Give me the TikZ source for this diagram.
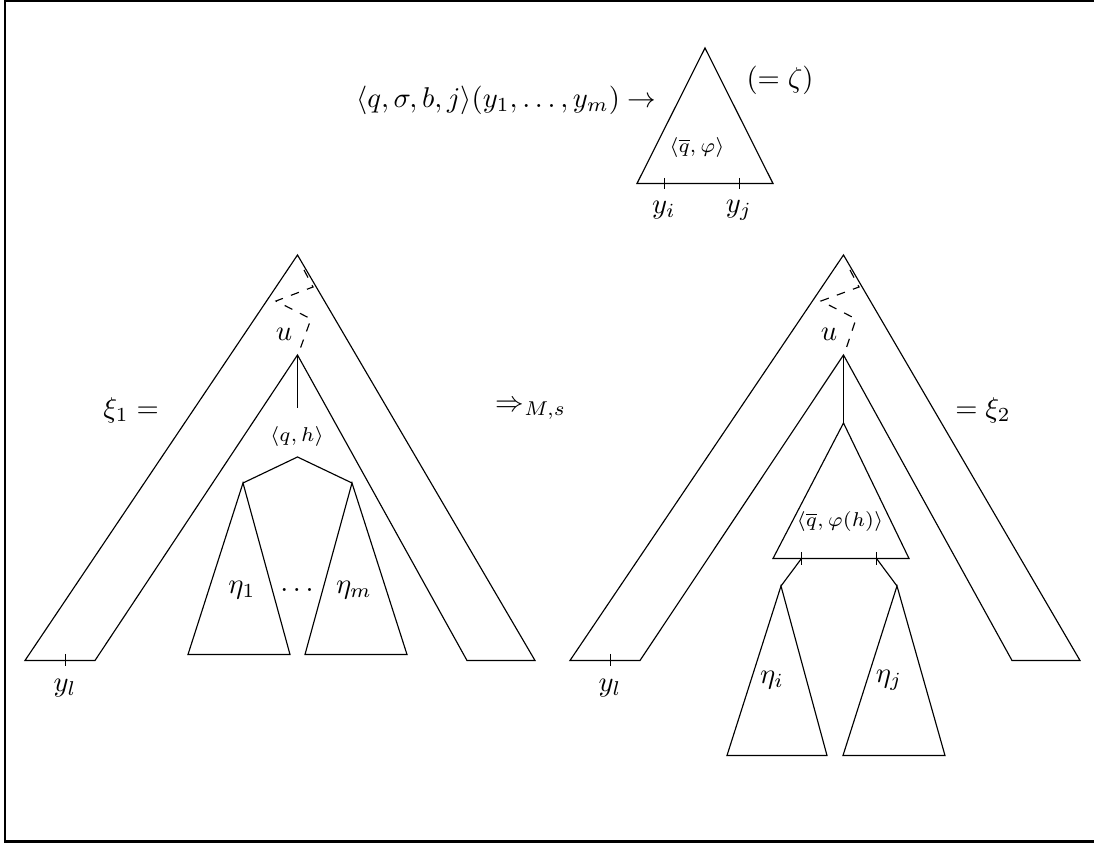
\documentclass[tikz,border=0pt]{standalone}
\begin{document}
\begin{tikzpicture}[x=0.35pt,y=-0.35pt,
  edge/.style={line width=0.4pt},
  frame/.style={line width=0.8pt},
  zig/.style={line width=0.4pt,dash pattern=on 3pt off 3pt},
  lbl/.style={inner sep=0pt},
  small/.style={inner sep=0pt,font=\scriptsize}]
\useasboundingbox (0,0) rectangle (1094,843);
% frame
\coordinate (f1) at (5,1);
\coordinate (f2) at (1094,1);
\coordinate (f3) at (1094,841.5);
\coordinate (f4) at (5,841.5);
\draw[frame] (f2) -- (f1) -- (f4) -- (f3);

% ---------- top rule ----------
\coordinate (t0) at (705,48);
\coordinate (t1) at (637,183.5);
\coordinate (t2) at (773,183.5);
\draw[edge] (t0) -- (t1) -- (t2) -- cycle;
\coordinate (ti1) at (664.5,178); \coordinate (ti2) at (664.5,189);
\coordinate (tj1) at (739.5,178); \coordinate (tj2) at (739.5,189);
\draw[edge] (ti1) -- (ti2);
\draw[edge] (tj1) -- (tj2);
\node[lbl,anchor=east] (rule) at (657,100) {$\langle q,\sigma,b,j\rangle(y_1,\ldots,y_m)\rightarrow$};
\node[lbl] (zeta) at (780,80) {$(=\zeta)$};
\node[small] (qphi) at (697,148) {$\langle\overline{q},\varphi\rangle$};
\node[lbl] (yi) at (664,210) {$y_i$};
\node[lbl] (yj) at (739,210) {$y_j$};

% ---------- left tree ----------
\coordinate (La) at (297.5,255);
\coordinate (Lol) at (25,660.5);
\coordinate (Lil) at (95,660.5);
\coordinate (Lu) at (297.5,355);
\coordinate (Lir) at (467,660.5);
\coordinate (Lor) at (535,660.5);
\draw[edge] (Lol) -- (La) -- (Lor) -- (Lir) -- (Lu) -- (Lil) -- cycle;
\coordinate (Lz1) at (304,270);
\coordinate (Lz2) at (313,287);
\coordinate (Lz3) at (276,301);
\coordinate (Lz4) at (311,319);
\coordinate (Lz5) at (299,352);
\draw[zig] (Lz1) -- (Lz2) -- (Lz3) -- (Lz4) -- (Lz5);
\node[lbl] (Lulab) at (284,334) {$u$};
\coordinate (Lv) at (297.5,408);
\draw[edge] (Lu) -- (Lv);
\node[small] (qh) at (297,437) {$\langle q,h\rangle$};
\coordinate (Lroof) at (297.5,457);
\coordinate (Le1) at (243,483);
\coordinate (Lem) at (352,483);
\draw[edge] (Le1) -- (Lroof) -- (Lem);
\coordinate (Le1l) at (188,654.5);
\coordinate (Le1r) at (290,654.5);
\coordinate (Leml) at (305,654.5);
\coordinate (Lemr) at (407,654.5);
\draw[edge] (Le1) -- (Le1l) -- (Le1r) -- cycle;
\draw[edge] (Lem) -- (Leml) -- (Lemr) -- cycle;
\node[lbl] (eta1) at (242,590) {$\eta_1$};
\node[lbl] (dots) at (297,590) {$\ldots$};
\node[lbl] (etam) at (354,590) {$\eta_m$};
\coordinate (Lyl1) at (65.5,654); \coordinate (Lyl2) at (65.5,666);
\draw[edge] (Lyl1) -- (Lyl2);
\node[lbl] (Lyl) at (65,688) {$y_l$};
\node[lbl] (xi1) at (131,410) {$\xi_1=$};

\node[lbl] (step) at (531,410) {$\Rightarrow_{M,s}$};

% ---------- right tree ----------
\coordinate (Ra) at (843.5,255);
\coordinate (Rol) at (570,660.5);
\coordinate (Ril) at (640,660.5);
\coordinate (Ru) at (843.5,355);
\coordinate (Rir) at (1012,660.5);
\coordinate (Ror) at (1080,660.5);
\draw[edge] (Rol) -- (Ra) -- (Ror) -- (Rir) -- (Ru) -- (Ril) -- cycle;
\coordinate (Rz1) at (850,270);
\coordinate (Rz2) at (859,287);
\coordinate (Rz3) at (821,301);
\coordinate (Rz4) at (856,319);
\coordinate (Rz5) at (845,352);
\draw[zig] (Rz1) -- (Rz2) -- (Rz3) -- (Rz4) -- (Rz5);
\node[lbl] (Rulab) at (829,334) {$u$};
\coordinate (Rv) at (843.5,423);
\draw[edge] (Ru) -- (Rv);
\coordinate (Rtl) at (773,558.5);
\coordinate (Rtr) at (909,558.5);
\draw[edge] (Rv) -- (Rtl) -- (Rtr) -- cycle;
\node[small] (qphih) at (840,522) {$\langle\overline{q},\varphi(h)\rangle$};
\coordinate (Rti) at (801.5,558.5);
\coordinate (Rtj) at (876.5,558.5);
\coordinate (Rti1) at (801.5,552); \coordinate (Rti2) at (801.5,565);
\coordinate (Rtj1) at (876.5,552); \coordinate (Rtj2) at (876.5,565);
\draw[edge] (Rti1) -- (Rti2);
\draw[edge] (Rtj1) -- (Rtj2);
\coordinate (Rei) at (781,586);
\coordinate (Rej) at (897,586);
\draw[edge] (Rti) -- (Rei);
\draw[edge] (Rtj) -- (Rej);
\coordinate (Reil) at (727,755.5);
\coordinate (Reir) at (827,755.5);
\coordinate (Rejl) at (843,755.5);
\coordinate (Rejr) at (945,755.5);
\draw[edge] (Rei) -- (Reil) -- (Reir) -- cycle;
\draw[edge] (Rej) -- (Rejl) -- (Rejr) -- cycle;
\node[lbl] (etai) at (772,680) {$\eta_i$};
\node[lbl] (etaj) at (889,680) {$\eta_j$};
\coordinate (Ryl1) at (610.5,654); \coordinate (Ryl2) at (610.5,666);
\draw[edge] (Ryl1) -- (Ryl2);
\node[lbl] (Ryl) at (610,688) {$y_l$};
\node[lbl] (xi2) at (983,410) {$=\xi_2$};
\end{tikzpicture}
\end{document}
